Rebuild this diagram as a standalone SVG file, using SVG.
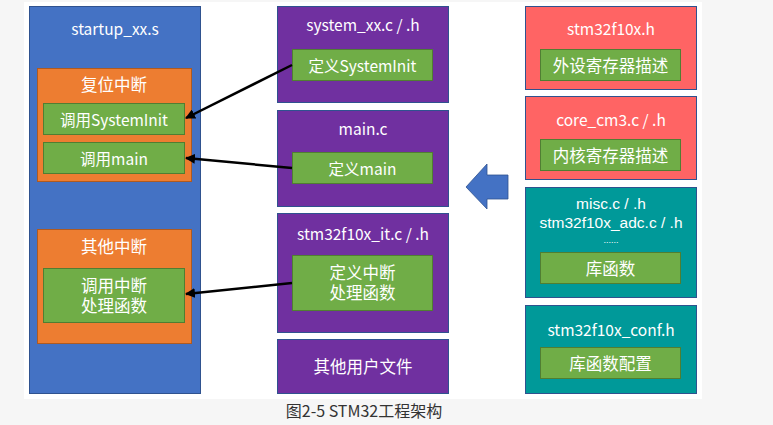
<svg xmlns="http://www.w3.org/2000/svg" width="773" height="425" viewBox="0 0 773 425">
<defs>
<style>
text{font-family:"Noto Sans CJK SC","Liberation Sans",sans-serif;font-size:15.5px;fill:#fff;text-anchor:middle;dominant-baseline:central}
text.zh{font-size:16.5px}
text.tight{font-family:"Liberation Sans","Noto Sans CJK SC",sans-serif}
.blue{fill:#4472C4;stroke:#2F528F;stroke-width:1}
.orange{fill:#ED7D31;stroke:#AE5A21;stroke-width:1}
.green{fill:#70AD47;stroke:#507E32;stroke-width:1}
.purple{fill:#7030A0;stroke:#2F528F;stroke-width:1}
.red{fill:#FF6464;stroke:#2F528F;stroke-width:1}
.teal{fill:#009999;stroke:#2F528F;stroke-width:1}
.conn{stroke:#000;stroke-width:2.5;fill:none;marker-end:url(#ah)}
text.cap{fill:#333;font-size:16px}
</style>
<marker id="ah" viewBox="0 0 10 10" refX="9" refY="5" markerWidth="4" markerHeight="4" orient="auto" markerUnits="strokeWidth">
<path d="M0,0 L10,5 L0,10 z" fill="#000"/>
</marker>
</defs>
<rect x="0" y="0" width="773" height="425" fill="#f6f6f6"/>
<rect x="24" y="2" width="678" height="397" fill="#fff"/>

<g id="startup">
<rect class="blue" x="29.5" y="6.5" width="171" height="387"/>
<text x="115" y="28">startup_xx.s</text>
</g>
<g id="reset">
<rect class="orange" x="37.5" y="68.5" width="154" height="113"/>
<text class="zh" x="114" y="84">复位中断</text>
</g>
<g id="call_systeminit">
<rect class="green" x="43.5" y="103.5" width="141" height="31"/>
<text x="114" y="119">调用SystemInit</text>
</g>
<g id="call_main">
<rect class="green" x="43.5" y="142.5" width="141" height="31"/>
<text x="114" y="158">调用main</text>
</g>
<g id="other_irq">
<rect class="orange" x="37.5" y="229.5" width="154" height="114"/>
<text class="zh" x="114" y="246">其他中断</text>
</g>
<g id="call_handler">
<rect class="green" x="43.5" y="268.5" width="141" height="54"/>
<text class="zh tight" x="114" y="286">调用中断</text>
<text class="zh tight" x="114" y="306">处理函数</text>
</g>

<g id="system_xx">
<rect class="purple" x="277.5" y="6.5" width="171" height="96"/>
<text x="363" y="24">system_xx.c / .h</text>
<rect class="green" x="292.5" y="49.5" width="140" height="31"/>
<text x="362.5" y="65">定义SystemInit</text>
</g>
<g id="main_c">
<rect class="purple" x="277.5" y="110.5" width="171" height="96"/>
<text x="363" y="128">main.c</text>
<rect class="green" x="292.5" y="152.5" width="140" height="31"/>
<text x="362.5" y="168">定义main</text>
</g>
<g id="it_c">
<rect class="purple" x="277.5" y="213.5" width="171" height="119"/>
<text x="363" y="233">stm32f10x_it.c / .h</text>
<rect class="green" x="292.5" y="255.5" width="140" height="55"/>
<text class="zh tight" x="362.5" y="273">定义中断</text>
<text class="zh tight" x="362.5" y="293">处理函数</text>
</g>
<g id="user_files">
<rect class="purple" x="277.5" y="339.5" width="171" height="54"/>
<text class="zh" x="363" y="366">其他用户文件</text>
</g>

<g id="stm32f10x_h">
<rect class="red" x="525.5" y="6.5" width="171" height="83"/>
<text x="611" y="28">stm32f10x.h</text>
<rect class="green" x="540.5" y="49.5" width="140" height="31"/>
<text class="zh" x="610.5" y="65">外设寄存器描述</text>
</g>
<g id="core_cm3">
<rect class="red" x="525.5" y="96.5" width="171" height="83"/>
<text x="611" y="119">core_cm3.c / .h</text>
<rect class="green" x="540.5" y="139.5" width="140" height="31"/>
<text class="zh" x="610.5" y="155">内核寄存器描述</text>
</g>
<g id="lib">
<rect class="teal" x="525.5" y="187.5" width="171" height="110"/>
<text class="tight" x="611" y="203">misc.c / .h</text>
<text class="tight" x="611" y="222">stm32f10x_adc.c / .h</text>
<text class="tight" x="611" y="240" style="font-size:9px">......</text>
<rect class="green" x="540.5" y="252.5" width="140" height="31"/>
<text class="zh" x="610.5" y="268">库函数</text>
</g>
<g id="conf">
<rect class="teal" x="525.5" y="305.5" width="171" height="88"/>
<text x="611" y="329">stm32f10x_conf.h</text>
<rect class="green" x="540.5" y="347.5" width="140" height="31"/>
<text class="zh" x="610.5" y="363">库函数配置</text>
</g>

<g id="big_arrow">
<path d="M466,187 L487,164 L487,175 L508,175 L508,199 L487,199 L487,209 Z" fill="#4472C4" stroke="#2F528F" stroke-width="0.8"/>
</g>

<g id="connectors">
<line class="conn" x1="292" y1="65" x2="186" y2="118"/>
<line class="conn" x1="292" y1="168" x2="186" y2="158"/>
<line class="conn" x1="292" y1="283" x2="186" y2="294"/>
</g>

<text class="cap" x="364" y="410">图2-5 STM32工程架构</text>
</svg>
